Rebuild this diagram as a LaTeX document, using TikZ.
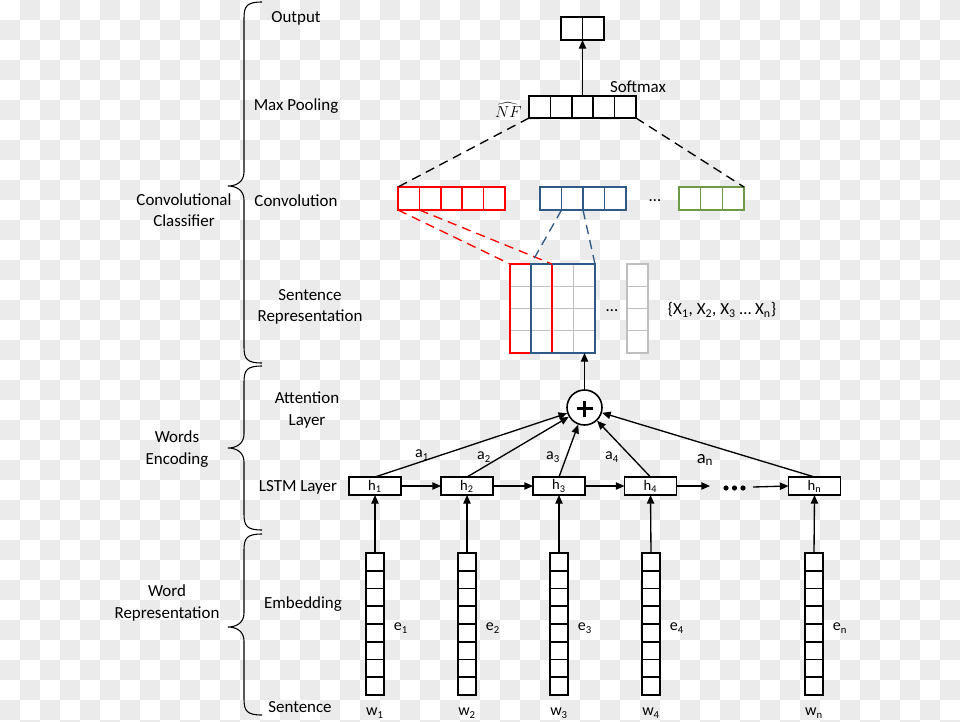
\documentclass[tikz,border=0pt]{standalone}
\usepackage{fontspec}
\setmainfont{Carlito}
\usetikzlibrary{arrows.meta,calc}
\definecolor{cbg}{HTML}{EBEBEB}
\definecolor{cred}{HTML}{FF0000}
\definecolor{cblue}{HTML}{2F5A88}
\definecolor{cgreen}{HTML}{6F9A45}
\definecolor{cgray}{HTML}{BFBFBF}
\newcommand\mybrace[3]{%
\draw[bracestyle] (262,#1) .. controls (247,#1) and (244,#1+4) .. (244,#1+16) -- (244,#2-14) .. controls (244,#2-4) and (236,#2) .. (228,#2) .. controls (236,#2) and (244,#2+4) .. (244,#2+14) -- (244,#3-16) .. controls (244,#3-4) and (247,#3) .. (262,#3);}
\begin{document}
\begin{tikzpicture}[x=0.75pt,y=-0.75pt,
  lab/.style={font=\fontsize{12.7}{16}\selectfont, align=center, inner sep=0},
  blk/.style={draw=black, line width=1.3pt, inner sep=0, outer sep=0, fill=white},
  redbox/.style={draw=cred, line width=1.1pt, inner sep=0, outer sep=0, fill=white},
  bluebox/.style={draw=cblue, line width=1.1pt, inner sep=0, outer sep=0, fill=white},
  greenbox/.style={draw=cgreen, line width=1.1pt, inner sep=0, outer sep=0, fill=white},
  graybox/.style={draw=cgray, line width=1.1pt, inner sep=0, outer sep=0, fill=white},
  arr/.style={line width=1pt, -{Triangle[length=6.5pt,width=5.5pt]}},
  bdash/.style={line width=1pt, dash pattern=on 7pt off 4.5pt},
  rdash/.style={line width=1pt, cred, dash pattern=on 7pt off 4.5pt},
  udash/.style={line width=1pt, cblue, dash pattern=on 7pt off 4.5pt},
  bracestyle/.style={line width=0.8pt},
  hbox/.style={blk, line width=1.2pt, minimum width=39pt, minimum height=13.5pt, font=\fontsize{11}{12}\selectfont},
  emb/.style={blk, minimum width=13.5pt, minimum height=106.5pt, anchor=north},
  alab/.style={font=\fontsize{12}{14}\selectfont, inner sep=0}
]
\useasboundingbox (0,0) rectangle (960,721);
% transparency checkerboard
\foreach \i in {0,...,47}{\foreach \j in {0,...,36}{%
  \pgfmathtruncatemacro\p{mod(\i+\j,2)}%
  \ifnum\p=1 \fill[cbg] (\i*20,\j*20) rectangle ++(20,20);\fi}}

% left labels
\node[lab] (lout) at (296,18) {Output};
\node[lab] (lpool) at (296,106) {Max Pooling};
\node[lab] (lconv) at (296,201) {Convolution};
\node[lab] (lsent) at (310,307) {Sentence\\Representation};
\node[lab] (latt) at (307,410) {Attention\\Layer};
\node[lab] (llstm) at (298,487) {LSTM Layer};
\node[lab] (lemb) at (303,604) {Embedding};
\node[lab] (lsen) at (300,707) {Sentence};
\node[lab] (lcc) at (184,210) {Convolutional\\Classifier};
\node[lab] (lwe) at (177,449) {Words\\Encoding};
\node[lab] (lwr) at (167,603) {Word\\Representation};
\mybrace{2}{186}{363}
\mybrace{366}{448}{530}
\mybrace{534}{627}{715}

% output
\node[blk, anchor=north west, minimum width=32.25pt, minimum height=17.25pt] (out) at (561,17) {};
\draw[line width=1.3pt] (582.5,17) -- (582.5,40);
% max pooling
\node[blk, anchor=north west, minimum width=80.25pt, minimum height=16.5pt] (pool) at (529,96) {};
\foreach \k in {1,...,4} \draw[line width=1.3pt] (529+\k*21.4,96) -- ++(0,22);
\draw[arr] (pool.north) -- (out.south);
\node[inner sep=0, anchor=east, font=\fontsize{13}{14}\selectfont] (nf) at (522,110) {$\widehat{NF}$};
\node[lab] (soft) at (638,87) {Softmax};

% convolution
\node[redbox, anchor=north west, minimum width=80.25pt, minimum height=17.25pt] (conv1) at (398,187) {};
\foreach \k in {1,...,4} \draw[cred, line width=1.1pt] (398+\k*21.4,187) -- ++(0,23);
\node[bluebox, anchor=north west, minimum width=64.5pt, minimum height=17.25pt] (conv2) at (540,187) {};
\foreach \k in {1,...,3} \draw[cblue, line width=1.1pt] (540+\k*21.5,187) -- ++(0,23);
\node[lab] (cdots) at (655,201) {…};
\node[greenbox, anchor=north west, minimum width=48.75pt, minimum height=17.25pt] (conv3) at (679,187) {};
\foreach \k in {1,...,2} \draw[cgreen, line width=1.1pt] (679+\k*21.7,187) -- ++(0,23);
\draw[bdash] (pool.south west) -- (conv1.north west);
\draw[bdash] (pool.south east) -- (conv3.north east);

% sentence representation matrix
\node[inner sep=0, outer sep=0, anchor=north west, minimum width=63.75pt, minimum height=66.75pt, fill=white] (sent) at (510,264) {};
\foreach \k in {1,...,3} \draw[cgray, line width=1.1pt] (510+\k*21.25,264) -- ++(0,89);
\foreach \k in {1,...,3} \draw[cgray, line width=1.1pt] (510,264+\k*22.25) -- ++(85,0);
\node[draw=cred, line width=1.1pt, inner sep=0, outer sep=0, anchor=north west, minimum width=31.5pt, minimum height=66.75pt] (redwin) at (510,264) {};
\node[draw=cblue, line width=1.1pt, inner sep=0, outer sep=0, anchor=north west, minimum width=48pt, minimum height=66.75pt] (bluewin) at (531,264) {};
\node[graybox, anchor=north west, minimum width=15.75pt, minimum height=66.75pt] (gcol) at (627,264) {};
\foreach \k in {1,...,3} \draw[cgray, line width=1.1pt] (627,264+\k*22.25) -- ++(21,0);
\node[lab] (sdots) at (612,311) {…};
\node[lab] (xset) at (722,310) {\{X\textsubscript{1}, X\textsubscript{2}, X\textsubscript{3} … X\textsubscript{n}\}};
\coordinate (c1d) at (419.4,210);
\coordinate (c2a) at (561.5,210);
\coordinate (c2b) at (583,210);
\draw[rdash] (conv1.south west) -- (redwin.north west);
\draw[rdash] (c1d) -- (redwin.north east);
\draw[udash] (c2a) -- (bluewin.north west);
\draw[udash] (c2b) -- (bluewin.north east);

% attention sum
\node[draw, circle, line width=1.2pt, minimum size=26.25pt, inner sep=0, fill=white] (plus) at (584.5,407.5) {};
\draw[line width=2.4pt] (576.5,408.5) -- (592.5,408.5) (584.5,400.5) -- (584.5,416.5);
\draw[arr] (plus.north) -- (plus.north |- sent.south);

% LSTM
\node[hbox] (h1) at (375,486) {h\textsubscript{1}};
\node[hbox] (h2) at (467,486) {h\textsubscript{2}};
\node[hbox] (h3) at (559,486) {h\textsubscript{3}};
\node[hbox] (h4) at (650.5,486) {h\textsubscript{4}};
\node[hbox] (hn) at (814.5,486) {h\textsubscript{n}};
\draw[arr] (h1.east) -- (h2.west);
\draw[arr] (h2.east) -- (h3.west);
\draw[arr] (h3.east) -- (h4.west);
\coordinate (d1) at (710,486);
\coordinate (d2) at (753,487);
\draw[arr] (h4.east) -- (d1);
\fill (726,488) circle (2.6) (734.5,488) circle (2.6) (743,488) circle (2.6);
\draw[arr] (d2) -- (hn.west);
\foreach \h in {h1,h2,h3,h4,hn} \draw[arr] (\h.north) -- (plus);
\node[alab] (a1) at (422,455) {a\textsubscript{1}};
\node[alab] (a2) at (484,457) {a\textsubscript{2}};
\node[alab] (a3) at (553,457) {a\textsubscript{3}};
\node[alab] (a4) at (612,457) {a\textsubscript{4}};
\node[alab, font=\fontsize{14}{16}\selectfont] (an) at (705,460) {a\textsubscript{n}};

% embeddings
\foreach \n/\x/\s in {1/375/1,2/467/2,3/559/3,4/651/4,n/814/n}{
  \node[emb] (e\n) at (\x,553) {};
  \foreach \k in {1,...,7} \draw[line width=1.3pt] (\x-9,553+\k*17.75) -- ++(18,0);
  \draw[arr] (e\n.north) -- (h\n.south);
  \node[alab] (el\n) at (\x+26,628) {e\textsubscript{\s}};
  \node[alab] (w\n) at (\x,713) {w\textsubscript{\s}};
}
\end{tikzpicture}
\end{document}
